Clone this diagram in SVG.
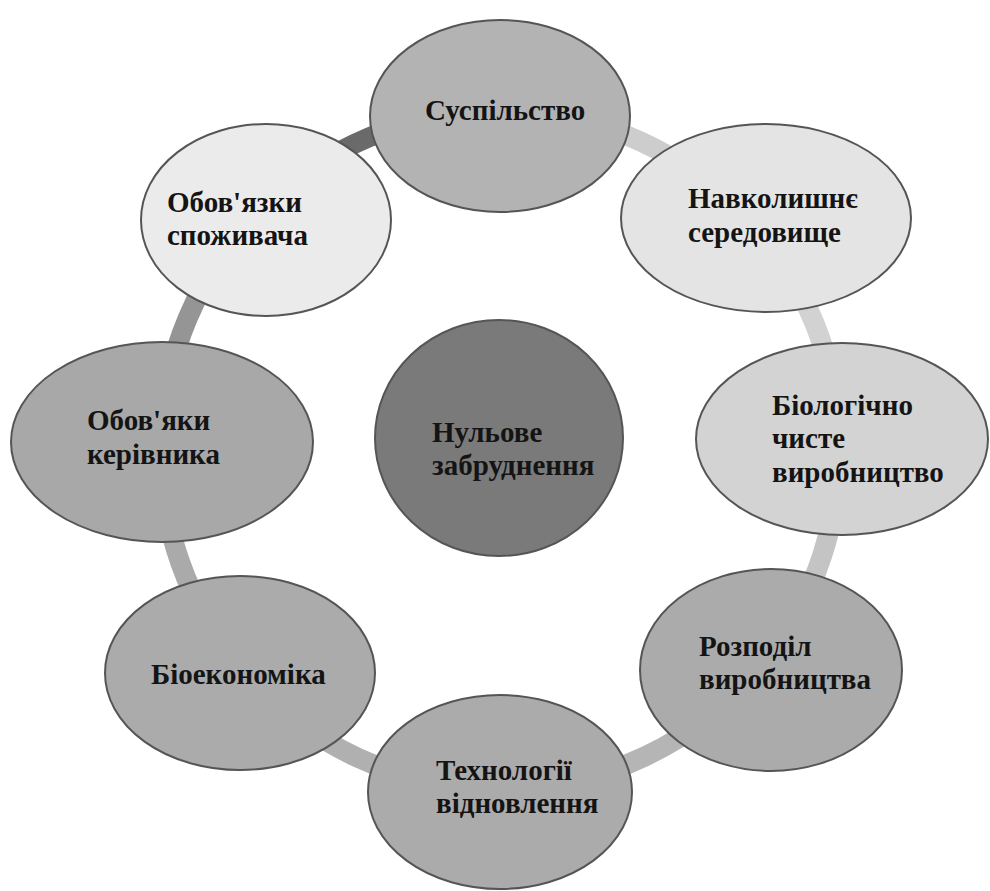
<svg xmlns="http://www.w3.org/2000/svg" width="990" height="891" viewBox="0 0 990 891">
<style>
.ring{fill:none;stroke-width:20;stroke-linecap:butt}
.node{stroke:#555;stroke-width:2}
.lbl{font-family:"Liberation Serif","DejaVu Serif","Times New Roman",serif;font-weight:bold;font-size:29px;fill:#141414}
</style>
<rect width="990" height="891" fill="#fff"/>
<g id="connectors">
<path class="ring" stroke="#6a6a6a" d="M258.2 212.4 A339 339 0 0 1 500 111"/>
<path class="ring" stroke="#cdcdcd" d="M500 111 A339 339 0 0 1 755.5 227.1"/>
<path class="ring" stroke="#d2d2d2" d="M755.5 227.1 A339 339 0 0 1 838.7 435.2"/>
<path class="ring" stroke="#c4c4c4" d="M838.7 435.2 A339 339 0 0 1 763.1 663.8"/>
<path class="ring" stroke="#b5b5b5" d="M763.1 663.8 A339 339 0 0 1 500 789"/>
<path class="ring" stroke="#b0b0b0" d="M500 789 A339 339 0 0 1 242.6 670.6"/>
<path class="ring" stroke="#aaaaaa" d="M242.6 670.6 A339 339 0 0 1 161.1 441.7"/>
<path class="ring" stroke="#959595" d="M161.1 441.7 A339 339 0 0 1 258.2 212.4"/>
</g>
<g id="n-center">
<ellipse class="node" cx="499" cy="438" rx="124" ry="118" fill="#7a7a7a"/>
<text class="lbl" x="432" y="442">Нульове</text>
<text class="lbl" x="432" y="475">забруднення</text>
</g>
<g id="n-suspilstvo">
<ellipse class="node" cx="500" cy="116" rx="130" ry="96" fill="#b3b3b3"/>
<text class="lbl" x="425" y="120">Суспільство</text>
</g>
<g id="n-navkolyshnie">
<ellipse class="node" cx="766" cy="218" rx="145" ry="94" fill="#e4e4e4"/>
<text class="lbl" x="688" y="208">Навколишнє</text>
<text class="lbl" x="688" y="242">середовище</text>
</g>
<g id="n-biolohichno">
<ellipse class="node" cx="842" cy="439" rx="146" ry="96" fill="#d3d3d3"/>
<text class="lbl" x="772" y="415">Біологічно</text>
<text class="lbl" x="772" y="448">чисте</text>
<text class="lbl" x="772" y="482">виробництво</text>
</g>
<g id="n-rozpodil">
<ellipse class="node" cx="771" cy="670" rx="131" ry="101" fill="#ababab"/>
<text class="lbl" x="699" y="656">Розподіл</text>
<text class="lbl" x="699" y="689">виробництва</text>
</g>
<g id="n-tekhnolohii">
<ellipse class="node" cx="500" cy="792" rx="132" ry="97" fill="#ababab"/>
<text class="lbl" x="436" y="780">Технології</text>
<text class="lbl" x="436" y="813">відновлення</text>
</g>
<g id="n-bioekonomika">
<ellipse class="node" cx="240" cy="673" rx="135" ry="97" fill="#ababab"/>
<text class="lbl" x="151" y="684">Біоекономіка</text>
</g>
<g id="n-kerivnyka">
<ellipse class="node" cx="162" cy="442" rx="151" ry="100" fill="#a8a8a8"/>
<text class="lbl" x="87" y="430">Обов'яки</text>
<text class="lbl" x="87" y="464">керівника</text>
</g>
<g id="n-spozhyvacha">
<ellipse class="node" cx="266" cy="220" rx="125" ry="96" fill="#ebebeb"/>
<text class="lbl" x="167" y="212">Обов'язки</text>
<text class="lbl" x="167" y="245">споживача</text>
</g>
</svg>
